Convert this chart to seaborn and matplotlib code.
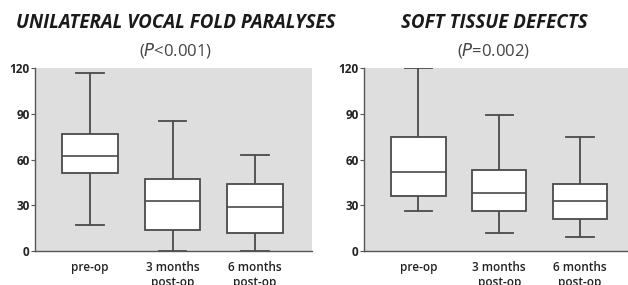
import numpy as np
import pandas as pd
import matplotlib.pyplot as plt
import seaborn as sns

# five-number summaries: min, q1, median, q3, max
groups = ['pre-op', '3 months\npost-op', '6 months\npost-op']
vocal_fold = [
    [17, 51, 62, 77, 117],
    [0, 14, 33, 47, 85],
    [0, 12, 29, 44, 63],
]
soft_tissue = [
    [26, 36, 52, 75, 120],
    [12, 26, 38, 53, 89],
    [9, 21, 33, 44, 75],
]
titles = ['UNILATERAL VOCAL FOLD PARALYSES', 'SOFT TISSUE DEFECTS']
p_signs = ['<', '=']
p_values = ['0.001', '0.002']
yticks = [0, 30, 60, 90, 120]


def to_frame(summaries):
    rows = []
    for g, vals in zip(groups, summaries):
        for v in vals:
            rows.append({'group': g, 'value': v})
    return pd.DataFrame(rows)


plt.rcParams['font.family'] = ['Open Sans', 'DejaVu Sans']

fig = plt.figure(figsize=(6.28, 2.85), dpi=100)
axes = [
    fig.add_axes([0.0557, 0.1193, 0.441, 0.642]),
    fig.add_axes([0.5796, 0.1193, 0.425, 0.642]),
]
xlims = [(-0.667, 2.69), (-0.675, 2.63)]
title_x = [176 / 628, 494 / 628]
edge = '#4a4a4a'

for ax, data, xl, tx, title, sign, pv in zip(axes, [vocal_fold, soft_tissue], xlims,
                                            title_x, titles, p_signs, p_values):
    df = to_frame(data)
    sns.boxplot(data=df, x='group', y='value', ax=ax, whis=(0, 100), width=0.67,
                color='white', linecolor=edge, linewidth=1.3, fill=True,
                boxprops=dict(facecolor='white', edgecolor=edge),
                medianprops=dict(color=edge, linewidth=1.2),
                capprops=dict(color=edge), whiskerprops=dict(color=edge))
    ax.set_facecolor('#dedede')
    ax.set_xlim(*xl)
    ax.set_ylim(0, 120)
    ax.set_yticks(yticks)
    ax.set_xlabel('')
    ax.set_ylabel('')
    for s in ['top', 'right']:
        ax.spines[s].set_visible(False)
    for s in ['left', 'bottom']:
        ax.spines[s].set_color('#555555')
        ax.spines[s].set_linewidth(1.0)
    ax.tick_params(axis='y', length=3, width=0.8, color='#555555', labelsize=8.5,
                   pad=1, labelcolor='#222222')
    ax.tick_params(axis='x', length=0, labelsize=8.5, pad=7, labelcolor='#222222')
    for lbl in ax.get_yticklabels():
        lbl.set_fontweight('bold')
    for lbl in ax.get_xticklabels():
        lbl.set_fontweight('semibold')
        lbl.set_linespacing(1.25)

    fig.text(tx, 1 - 23 / 285, title, ha='center', va='center', fontsize=13.5,
             fontweight='bold', fontstyle='italic', color='#1a1a1a')
    fig.text(tx, 1 - 51 / 285, r'($\it{P}$' + sign + pv + ')', ha='center',
             va='center', fontsize=12, color='#444444')

fig.savefig('out.png', dpi=100)
